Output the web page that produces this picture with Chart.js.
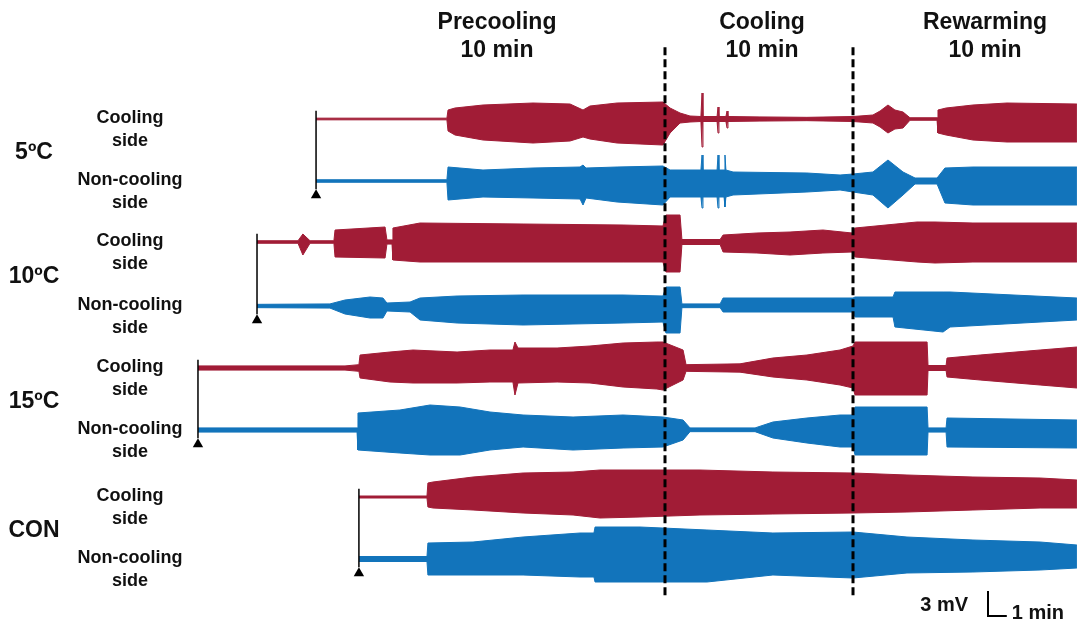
<!DOCTYPE html>
<html>
<head>
<meta charset="utf-8">
<script src="https://cdn.jsdelivr.net/npm/chart.js@4.4.1/dist/chart.umd.min.js"></script>
<style>
  html, body { margin: 0; padding: 0; background: #fff; }
  canvas { display: block; }
</style>
</head>
<body>
<canvas id="emg" width="1079" height="628"></canvas>
<script>
const red = "#a11c36";
const blue = "#1274bb";

const groups = ["5ºC", "10ºC", "15ºC", "CON"];
const sides = ["Cooling", "Non-cooling"];
const phaseNames = ["Precooling", "Cooling", "Rewarming"];
const phaseLength = "10 min";
const phaseBounds = [0, 10]; // minutes, cooling on / off

// envelope of each recording: time (min from cooling onset), amplitude above / below baseline (mV)
const cool5Time = [-18.56, -11.6, -11.54, -11.17, -9.68, -7.02, -5.05, -4.36, -3.99, -2.55, -0.11, 0.27, 0.8, 1.33, 1.91, 1.97, 2.02, 2.77, 2.82, 2.87, 3.24, 3.3, 3.35, 5.05, 7.55, 10.0, 11.06, 11.44, 11.86, 12.23, 12.66, 13.03, 14.47, 14.52, 14.95, 16.38, 18.19, 21.91];
const cool5Up = [0.1, 0.1, 1.08, 1.32, 1.68, 1.92, 1.8, 1.08, 1.56, 1.92, 2.04, 1.32, 0.72, 0.36, 0.3, 3.12, 0.3, 0.3, 1.44, 0.3, 0.3, 0.96, 0.3, 0.25, 0.2, 0.3, 0.48, 0.96, 1.68, 1.08, 0.84, 0.15, 0.15, 1.08, 1.32, 1.68, 1.92, 1.8];
const cool5Down = [0.1, 0.1, 1.44, 1.92, 2.52, 2.88, 2.64, 2.16, 2.4, 2.88, 3.12, 1.68, 0.48, 0.36, 0.3, 3.36, 0.3, 0.3, 1.68, 0.3, 0.3, 1.08, 0.3, 0.25, 0.2, 0.3, 0.48, 0.96, 1.68, 1.2, 1.08, 0.15, 0.15, 1.68, 1.92, 2.52, 2.76, 2.76];

const non5Time = [-18.56, -11.6, -11.54, -9.68, -7.02, -4.52, -4.36, -4.2, -2.55, -0.11, 0.27, 1.91, 1.97, 2.02, 2.77, 2.82, 2.87, 3.14, 3.19, 3.24, 3.62, 7.55, 9.31, 10.0, 11.06, 11.86, 12.66, 13.3, 14.47, 14.89, 16.38, 21.91];
const non5Up = [0.15, 0.15, 1.68, 1.32, 1.56, 1.68, 1.92, 1.56, 1.68, 1.8, 1.32, 1.32, 3.12, 1.32, 1.32, 3.12, 1.32, 1.32, 3.12, 1.32, 1.08, 0.96, 0.72, 0.84, 1.08, 2.52, 1.08, 0.36, 0.36, 1.56, 1.68, 1.68];
const non5Down = [0.15, 0.15, 2.28, 1.92, 2.04, 2.16, 2.88, 2.04, 2.52, 2.88, 1.92, 1.92, 3.24, 1.92, 1.92, 3.24, 1.92, 1.92, 3.12, 1.92, 1.68, 1.32, 1.08, 1.32, 1.68, 3.24, 1.68, 0.36, 0.36, 2.64, 2.88, 2.88];

const cool10Time = [-21.7, -19.52, -19.26, -18.88, -17.61, -17.55, -14.89, -14.79, -14.52, -14.47, -13.03, -7.55, -2.23, -0.11, 0.05, 0.8, 0.9, 2.93, 3.09, 4.89, 6.65, 8.4, 9.95, 10.11, 13.4, 14.36, 16.38, 21.91];
const cool10Up = [0.15, 0.15, 0.96, 0.15, 0.15, 1.44, 1.8, 0.25, 0.25, 1.68, 2.28, 2.16, 2.04, 1.92, 3.24, 3.24, 0.3, 0.3, 0.84, 1.08, 1.2, 1.44, 1.08, 1.68, 2.4, 2.4, 2.28, 2.28];
const cool10Down = [0.15, 0.15, 1.56, 0.15, 0.15, 1.8, 1.92, 0.25, 0.25, 2.16, 2.4, 2.4, 2.4, 2.4, 3.6, 3.6, 0.3, 0.3, 1.2, 1.32, 1.56, 1.32, 1.2, 1.8, 2.4, 2.52, 2.4, 2.4];

const non10Time = [-21.7, -17.82, -17.02, -15.69, -15.0, -14.79, -13.56, -13.03, -11.06, -7.55, -2.23, -0.11, 0.05, 0.8, 0.9, 2.93, 3.09, 10.0, 10.11, 12.13, 12.23, 14.79, 15.16, 21.91];
const non10Up = [0.2, 0.25, 0.72, 1.08, 0.96, 0.36, 0.48, 0.96, 1.2, 1.32, 1.32, 1.2, 2.28, 2.28, 0.25, 0.25, 0.96, 0.96, 1.08, 1.08, 1.68, 1.68, 1.68, 0.96];
const non10Down = [0.2, 0.25, 0.96, 1.44, 1.44, 0.6, 0.72, 1.68, 2.04, 2.28, 2.04, 1.92, 3.24, 3.24, 0.2, 0.2, 0.72, 0.72, 1.32, 1.32, 2.52, 3.12, 2.52, 1.68];

const cool15Time = [-24.84, -17.02, -16.28, -16.22, -14.63, -13.4, -11.06, -9.31, -8.09, -7.98, -7.82, -5.74, -3.99, -2.23, -0.43, -0.11, 0.96, 1.12, 3.99, 5.74, 7.55, 9.31, 10.0, 10.11, 13.94, 13.99, 14.95, 15.0, 16.76, 19.95, 21.91];
const cool15Up = [0.25, 0.25, 0.4, 1.56, 1.92, 2.16, 1.92, 2.16, 2.16, 3.12, 2.4, 2.4, 2.64, 3.0, 3.12, 3.12, 2.16, 0.4, 0.5, 1.2, 1.56, 2.16, 2.64, 3.12, 3.12, 0.3, 0.3, 1.2, 1.56, 2.16, 2.52];
const cool15Down = [0.25, 0.25, 0.4, 1.2, 1.68, 1.8, 1.8, 1.68, 1.68, 3.24, 1.8, 1.68, 1.8, 2.28, 2.52, 2.64, 1.44, 0.4, 0.5, 1.08, 1.44, 2.04, 2.4, 3.24, 3.24, 0.3, 0.3, 1.08, 1.44, 2.04, 2.4];

const non15Time = [-24.84, -16.38, -16.33, -14.1, -12.5, -10.9, -9.31, -7.55, -4.89, -2.23, -0.11, 0.96, 1.33, 4.79, 5.74, 7.55, 9.31, 10.0, 10.11, 13.94, 13.99, 14.95, 15.0, 21.91];
const non15Up = [0.25, 0.25, 2.04, 2.4, 3.0, 2.76, 2.16, 1.8, 1.56, 1.8, 1.56, 1.2, 0.25, 0.25, 0.96, 1.44, 1.8, 1.8, 2.76, 2.76, 0.25, 0.25, 1.44, 1.2];
const non15Down = [0.25, 0.25, 2.4, 2.76, 3.0, 3.0, 2.4, 2.04, 2.4, 2.16, 2.04, 1.2, 0.2, 0.2, 0.96, 1.56, 2.04, 2.04, 3.0, 3.0, 0.25, 0.25, 2.04, 2.16];

const coolConTime = [-16.28, -12.66, -12.61, -12.34, -10.21, -7.55, -4.89, -3.46, -1.33, 1.86, 5.74, 10.0, 12.87, 16.38, 19.95, 21.91];
const coolConUp = [0.12, 0.12, 1.68, 1.8, 2.4, 2.88, 3.0, 3.24, 3.24, 3.24, 3.0, 2.88, 2.64, 2.4, 2.28, 2.04];
const coolConDown = [0.12, 0.12, 1.2, 1.32, 1.56, 1.92, 2.16, 2.52, 2.4, 2.16, 2.04, 1.92, 1.8, 1.56, 1.32, 1.32];

const nonConTime = [-16.28, -12.66, -12.61, -10.21, -7.55, -4.52, -3.78, -3.72, -1.33, 2.23, 5.74, 10.0, 12.87, 16.38, 19.95, 21.91];
const nonConUp = [0.3, 0.3, 1.92, 2.04, 2.64, 3.12, 3.12, 3.84, 3.84, 3.48, 3.12, 3.24, 2.64, 2.28, 2.04, 1.68];
const nonConDown = [0.3, 0.3, 1.92, 1.92, 1.92, 2.16, 2.16, 2.76, 2.76, 2.76, 1.92, 2.28, 1.68, 1.56, 1.32, 1.08];

const scaleBarMv = 3;
const scaleBarMin = 1;

// layout (mV / min units of the canvas)
const rowBaselines = [61.08, 53.64, 46.32, 38.64, 31.2, 23.76, 15.72, 8.28];
const xRange = [-35.37, 22.02];
const yRange = [0, 75.36];
const scaleBarAt = { x: 17.18, y: 1.44 };
const phaseLabelX = [497, 762, 985];

const traces = [
  [cool5Time, cool5Up, cool5Down],
  [non5Time, non5Up, non5Down],
  [cool10Time, cool10Up, cool10Down],
  [non10Time, non10Up, non10Down],
  [cool15Time, cool15Up, cool15Down],
  [non15Time, non15Up, non15Down],
  [coolConTime, coolConUp, coolConDown],
  [nonConTime, nonConUp, nonConDown],
];

const font = (size) => `bold ${size}px 'Liberation Sans', Arial, sans-serif`;

const lineSet = (data, extra) => ({
  data,
  borderColor: "#000",
  borderWidth: 1.5,
  pointRadius: 0,
  fill: false,
  tension: 0,
  order: 1,
  ...extra,
});

const datasets = [];

// dashed phase boundaries
phaseBounds.forEach((t) => {
  datasets.push(
    lineSet(
      [
        { x: t, y: 69.7 },
        { x: t, y: 3.7 },
      ],
      { borderWidth: 3, borderDash: [8, 4], order: 0 }
    )
  );
});

traces.forEach(([time, up, down], i) => {
  const base = rowBaselines[i];
  const color = i % 2 === 0 ? red : blue;
  datasets.push({
    data: time.map((t, k) => ({ x: t, y: base + up[k] })),
    borderColor: color,
    backgroundColor: color,
    borderWidth: 1,
    pointRadius: 0,
    tension: 0,
    fill: "+1",
    order: 2,
  });
  datasets.push({
    data: time.map((t, k) => ({ x: t, y: base - down[k] })),
    borderColor: color,
    borderWidth: 1,
    pointRadius: 0,
    tension: 0,
    fill: false,
    order: 2,
  });
});

// start markers for each recording pair
groups.forEach((_, g) => {
  const start = traces[g * 2][0][0];
  const top = rowBaselines[g * 2] + 1.0;
  const bottom = rowBaselines[g * 2 + 1] - 1.0;
  datasets.push(
    lineSet([
      { x: start, y: top },
      { x: start, y: bottom },
    ])
  );
  datasets.push({
    data: [{ x: start, y: rowBaselines[g * 2 + 1] - 1.7 }],
    showLine: false,
    pointStyle: "triangle",
    pointRadius: 6,
    pointBackgroundColor: "#000",
    pointBorderColor: "#000",
    pointBorderWidth: 0,
    order: 1,
  });
});

// scale bar
datasets.push(
  lineSet(
    [
      { x: scaleBarAt.x, y: scaleBarAt.y + scaleBarMv },
      { x: scaleBarAt.x, y: scaleBarAt.y },
      { x: scaleBarAt.x + scaleBarMin, y: scaleBarAt.y },
    ],
    { borderWidth: 2 }
  )
);

const labelPlugin = {
  id: "labels",
  afterDraw(chart) {
    const { ctx } = chart;
    const { x, y } = chart.scales;
    ctx.save();
    ctx.fillStyle = "#111";
    ctx.textAlign = "center";
    ctx.textBaseline = "middle";

    ctx.font = font(23);
    phaseNames.forEach((name, i) => {
      ctx.fillText(name, phaseLabelX[i], 23);
      ctx.fillText(phaseLength, phaseLabelX[i], 51);
    });

    groups.forEach((group, g) => {
      const a = y.getPixelForValue(rowBaselines[g * 2]);
      const b = y.getPixelForValue(rowBaselines[g * 2 + 1]);
      ctx.font = font(23);
      ctx.fillText(group, 34, (a + b) / 2 + 3);
      ctx.font = font(18);
      [a, b].forEach((py, s) => {
        ctx.fillText(sides[s], 130, py - 1);
        ctx.fillText("side", 130, py + 22);
      });
    });

    const bx = x.getPixelForValue(scaleBarAt.x);
    const by = y.getPixelForValue(scaleBarAt.y);
    ctx.font = font(20);
    ctx.textAlign = "right";
    ctx.fillText(`${scaleBarMv} mV`, bx - 20, by - 11);
    ctx.textAlign = "left";
    ctx.fillText(`${scaleBarMin} min`, x.getPixelForValue(scaleBarAt.x + scaleBarMin) + 5, by - 3);
    ctx.restore();
  },
};

new Chart(document.getElementById("emg").getContext("2d"), {
  type: "line",
  data: { datasets },
  options: {
    responsive: false,
    animation: false,
    layout: { padding: 0, autoPadding: false },
    plugins: { legend: { display: false }, tooltip: { enabled: false } },
    scales: {
      x: { type: "linear", display: false, min: xRange[0], max: xRange[1] },
      y: { type: "linear", display: false, min: yRange[0], max: yRange[1] },
    },
  },
  plugins: [labelPlugin],
});
</script>
</body>
</html>
